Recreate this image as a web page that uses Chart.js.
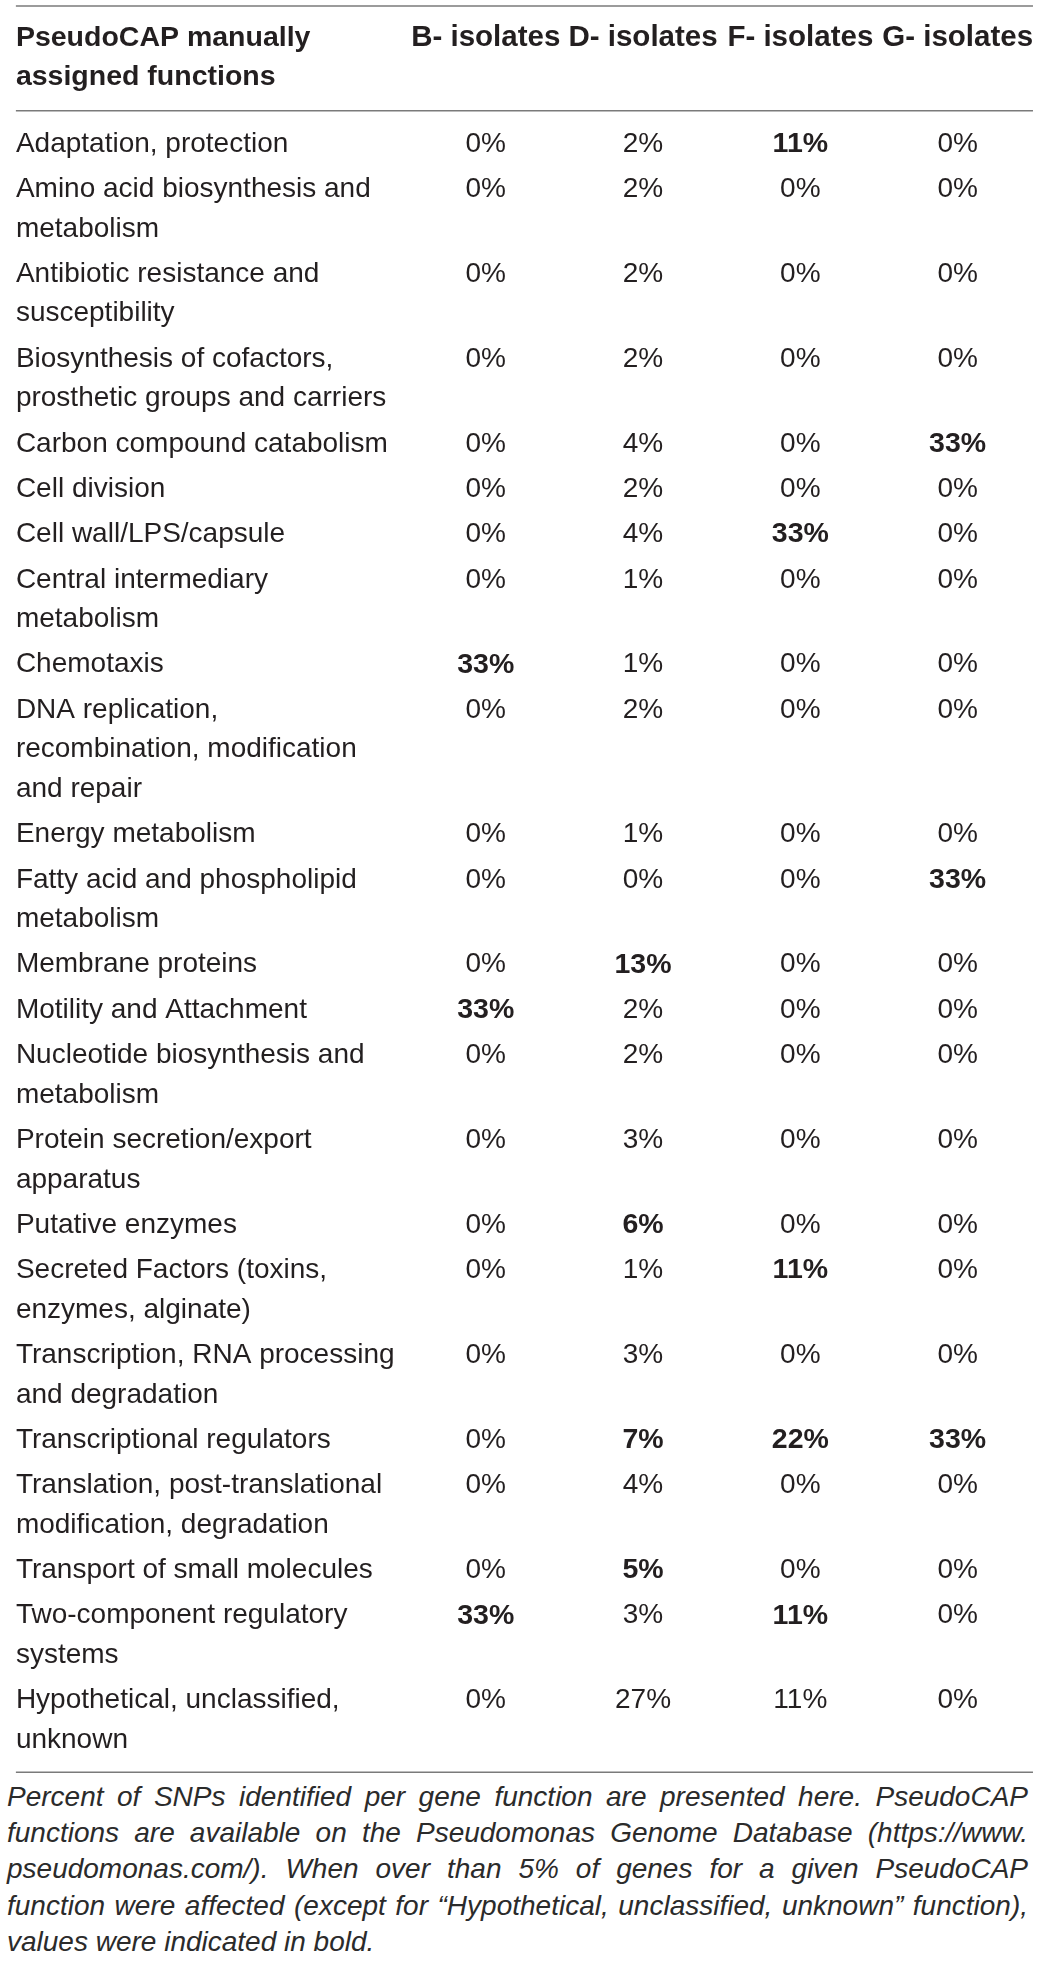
<!DOCTYPE html>
<html>
<head>
<meta charset="utf-8">
<script src="https://cdn.jsdelivr.net/npm/chart.js@4.4.1/dist/chart.umd.min.js"></script>
<style>
  html, body { margin: 0; padding: 0; background: #fff; overflow: hidden; }
  #wrap { position: relative; width: 1041px; height: 1962px; }
  #box { position: absolute; left: 0; top: 0; width: 1041px; height: 1779px; }
  #caption {
    position: absolute; left: 7px; top: 1779px; width: 1021px;
    font-family: "Liberation Sans", Arial, sans-serif; font-style: italic;
    font-size: 28px; line-height: 36.2px; color: #2b2b2b;
  }
  #caption .j { text-align: justify; text-align-last: justify; }
</style>
</head>
<body>
<div id="wrap">
  <div id="box"><canvas id="tbl"></canvas></div>
  <div id="caption">
    <div class="j">Percent of SNPs identified per gene function are presented here. PseudoCAP</div>
    <div class="j">functions are available on the Pseudomonas Genome Database (https://www.</div>
    <div class="j">pseudomonas.com/). When over than 5% of genes for a given PseudoCAP</div>
    <div class="j">function were affected (except for “Hypothetical, unclassified, unknown” function),</div>
    <div>values were indicated in bold.</div>
  </div>
</div>
<script>
// PseudoCAP functions, one entry per row (inner arrays = wrapped lines)
const functions = [
  ['Adaptation, protection'],
  ['Amino acid biosynthesis and', 'metabolism'],
  ['Antibiotic resistance and', 'susceptibility'],
  ['Biosynthesis of cofactors,', 'prosthetic groups and carriers'],
  ['Carbon compound catabolism'],
  ['Cell division'],
  ['Cell wall/LPS/capsule'],
  ['Central intermediary', 'metabolism'],
  ['Chemotaxis'],
  ['DNA replication,', 'recombination, modification', 'and repair'],
  ['Energy metabolism'],
  ['Fatty acid and phospholipid', 'metabolism'],
  ['Membrane proteins'],
  ['Motility and Attachment'],
  ['Nucleotide biosynthesis and', 'metabolism'],
  ['Protein secretion/export', 'apparatus'],
  ['Putative enzymes'],
  ['Secreted Factors (toxins,', 'enzymes, alginate)'],
  ['Transcription, RNA processing', 'and degradation'],
  ['Transcriptional regulators'],
  ['Translation, post-translational', 'modification, degradation'],
  ['Transport of small molecules'],
  ['Two-component regulatory', 'systems'],
  ['Hypothetical, unclassified,', 'unknown']
];

const isolates = ['B- isolates', 'D- isolates', 'F- isolates', 'G- isolates'];
const headerLabel = ['PseudoCAP manually', 'assigned functions'];

const bValues = [0, 0, 0, 0, 0, 0, 0, 0, 33, 0, 0, 0, 0, 33, 0, 0, 0, 0, 0, 0, 0, 0, 33, 0];
const dValues = [2, 2, 2, 2, 4, 2, 4, 1, 1, 2, 1, 0, 13, 2, 2, 3, 6, 1, 3, 7, 4, 5, 3, 27];
const fValues = [11, 0, 0, 0, 0, 0, 33, 0, 0, 0, 0, 0, 0, 0, 0, 0, 0, 11, 0, 22, 0, 0, 11, 11];
const gValues = [0, 0, 0, 0, 33, 0, 0, 0, 0, 0, 0, 33, 0, 0, 0, 0, 0, 0, 0, 33, 0, 0, 0, 0];

// bold when >= 5%, except the hypothetical/unknown row
const BOLD_MIN = 5;
const notBoldRow = 'Hypothetical, unclassified,';

// layout, in "line" units on the y axis
const ROW_GAP = 1.144;
const rowPos = [];
functions.forEach((f, i) => {
  if (i === 0) rowPos.push(0);
  else rowPos.push(rowPos[i - 1] + ROW_GAP + (functions[i - 1].length - 1));
});

const INK = '#231f20';
const RULE = '#7a7a7a';
const FONT = '"Liberation Sans", Arial, sans-serif';

const seriesList = [bValues, dValues, fValues, gValues];
const datasets = seriesList.map((vals, c) => ({
  label: isolates[c],
  data: vals.map((v, r) => ({ x: c + 1, y: rowPos[r], v: v, row: r })),
  pointRadius: 0,
  showLine: false
}));

const tablePlugin = {
  id: 'tablePlugin',
  afterDatasetsDraw(chart) {
    const ctx = chart.ctx;
    const xs = chart.scales.x, ys = chart.scales.y;
    const left = xs.getPixelForValue(-1.987);
    const right = xs.getPixelForValue(4.479);

    ctx.save();
    // rules
    ctx.strokeStyle = RULE;
    ctx.lineWidth = 1.5;
    [-3.485, -0.841, 41.12].forEach(v => {
      const y = ys.getPixelForValue(v);
      ctx.beginPath();
      ctx.moveTo(left, y);
      ctx.lineTo(right, y);
      ctx.stroke();
    });

    ctx.fillStyle = INK;
    ctx.textBaseline = 'middle';

    // header
    ctx.font = 'bold 28.5px ' + FONT;
    ctx.textAlign = 'left';
    headerLabel.forEach((t, k) => ctx.fillText(t, left, ys.getPixelForValue(-2.677 + k * 0.985)));
    ctx.font = 'bold 29.5px ' + FONT;
    ctx.textAlign = 'center';
    isolates.forEach((t, c) => ctx.fillText(t, xs.getPixelForValue(c + 1), ys.getPixelForValue(-2.677)));

    // function names
    ctx.font = '28px ' + FONT;
    ctx.textAlign = 'left';
    functions.forEach((lines, r) => {
      lines.forEach((t, k) => ctx.fillText(t, left, ys.getPixelForValue(rowPos[r] + k)));
    });

    // values
    chart.data.datasets.forEach((ds, i) => {
      const meta = chart.getDatasetMeta(i);
      meta.data.forEach((pt, j) => {
        const d = ds.data[j];
        const bold = d.v >= BOLD_MIN && functions[d.row][0] !== notBoldRow;
        ctx.font = (bold ? 'bold 28.5px ' : '28px ') + FONT;
        ctx.textAlign = 'center';
        ctx.fillText(d.v + '%', pt.x, pt.y);
      });
    });
    ctx.restore();
  }
};

new Chart(document.getElementById('tbl'), {
  type: 'scatter',
  data: { datasets: datasets },
  options: {
    responsive: true,
    maintainAspectRatio: false,
    animation: false,
    layout: { padding: 0 },
    plugins: { legend: { display: false }, tooltip: { enabled: false } },
    scales: {
      x: { type: 'linear', min: -2.088, max: 4.530, display: false },
      y: { type: 'linear', reverse: true, min: -3.636, max: 41.29, display: false }
    }
  },
  plugins: [tablePlugin]
});
</script>
</body>
</html>
